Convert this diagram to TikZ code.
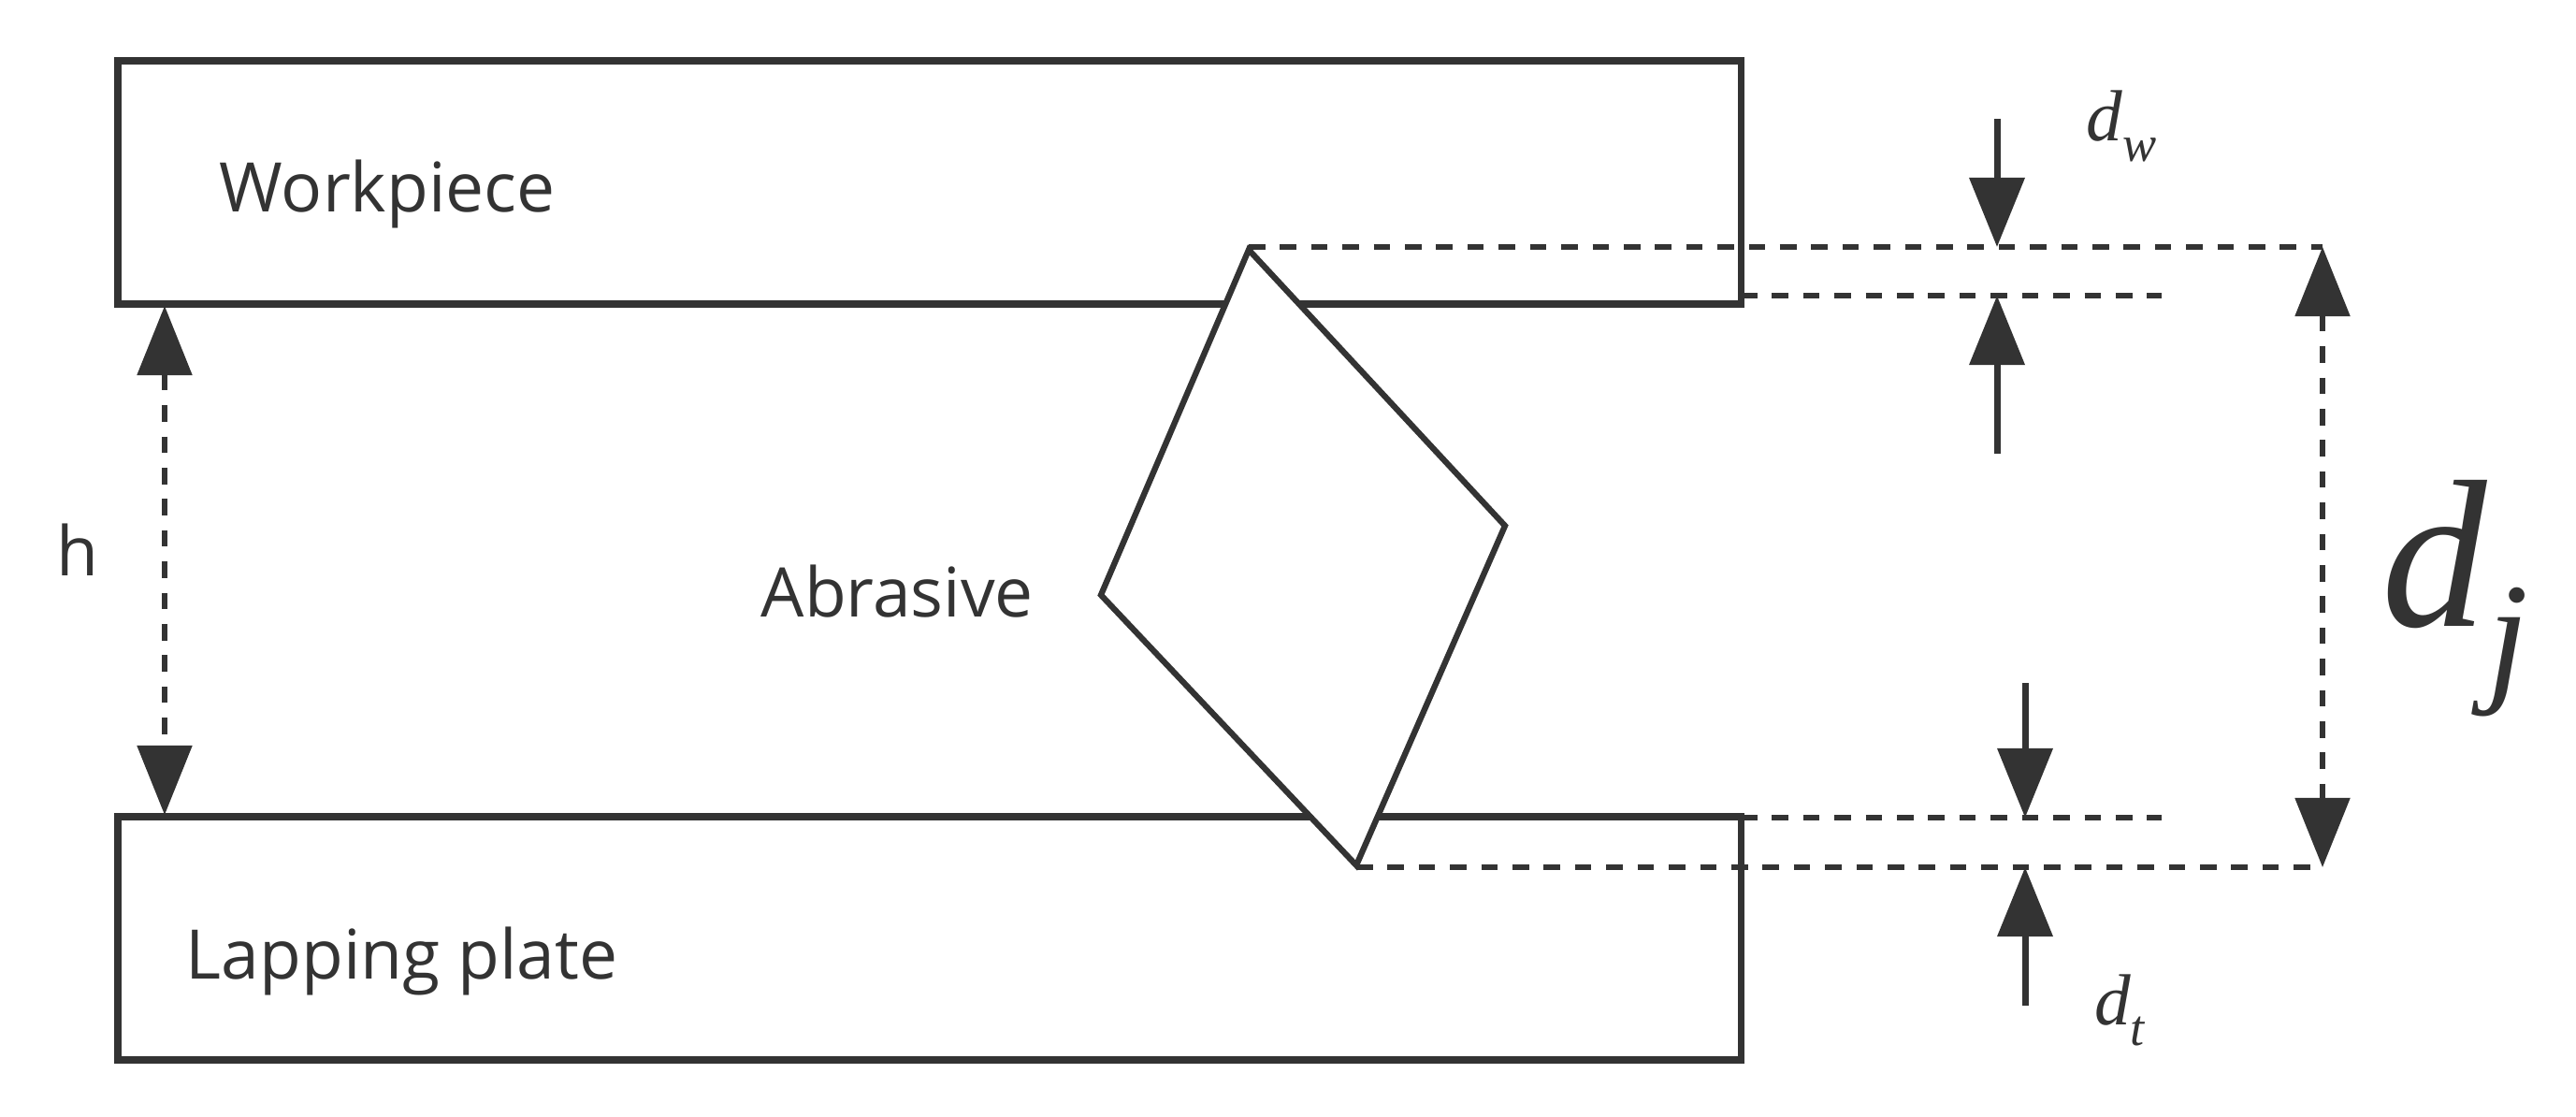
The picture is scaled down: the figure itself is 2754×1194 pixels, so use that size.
\documentclass[tikz,border=0pt]{standalone}
\usepackage{fontspec}
\setmainfont{Open Sans}
\newfontfamily\symfont{Liberation Serif}
\usetikzlibrary{arrows.meta}
\definecolor{ink}{HTML}{333333}
\newcommand{\mysym}[3]{{\symfont\itshape\fontsize{#3}{#3}\selectfont #1\raisebox{-0.28em}{\fontsize{0.7\dimexpr#3pt\relax}{#3}\selectfont #2}}}
\tikzset{
  solidline/.style={draw=ink,line width=2pt},
  dotline/.style={draw=ink,line width=1.5pt,dash pattern=on 5pt off 4.5pt},
  tip/.style={-{Triangle[width=0.58cm,length=0.74cm]}},
  lbl/.style={text=ink,font=\fontsize{20.8}{24}\selectfont,anchor=west,inner sep=0},
  mlbl/.style={text=ink,inner sep=0}
}
\begin{document}
\begin{tikzpicture}[x=0.01cm,y=-0.01cm]
\useasboundingbox (0,0) rectangle (2754,1194);
% plates
\draw[solidline] (126,65) rectangle (1861,325);
\draw[solidline] (126,873) rectangle (1861,1133);
\node[lbl] (wp) at (234,207) {Workpiece};
\node[lbl] (lp) at (198,1027) {Lapping plate};
\node[lbl] (ab) at (813,632) {Abrasive};
\node[lbl] (h) at (60,588) {h};
% abrasive
\draw[solidline,fill=white,line width=1.8pt] (1335,267) -- (1609,562) -- (1450,925) -- (1177,636) -- cycle;
% dotted lines
\coordinate (t1) at (1335,264); \coordinate (t2) at (2483,264);
\coordinate (s1) at (1861,316); \coordinate (s2) at (2311,316);
\coordinate (u1) at (1861,874); \coordinate (u2) at (2311,874);
\coordinate (b1) at (1450,927); \coordinate (b2) at (2483,927);
\draw[dotline] (t1) -- (t2);
\draw[dotline] (s1) -- (s2);
\draw[dotline] (u1) -- (u2);
\draw[dotline] (b1) -- (b2);
% h arrow
\coordinate (h1) at (176,327); \coordinate (h2) at (176,871);
\draw[dotline,{Triangle[width=0.58cm,length=0.74cm]}-{Triangle[width=0.58cm,length=0.74cm]}] (h1) -- (h2);
% dj arrow
\draw[dotline,{Triangle[width=0.58cm,length=0.74cm]}-{Triangle[width=0.58cm,length=0.74cm]}] (t2) -- (b2);
% dw arrows
\coordinate (dw1) at (2135,127); \coordinate (dw2) at (2135,485);
\coordinate (dwt) at (2135,264); \coordinate (dwb) at (2135,316);
\draw[ink,line width=2pt,tip] (dw1) -- (dwt);
\draw[ink,line width=2pt,tip] (dw2) -- (dwb);
% dt arrows
\coordinate (dt1) at (2165,730); \coordinate (dt2) at (2165,1075);
\coordinate (dtt) at (2165,874); \coordinate (dtb) at (2165,927);
\draw[ink,line width=2pt,tip] (dt1) -- (dtt);
\draw[ink,line width=2pt,tip] (dt2) -- (dtb);
% labels
\node[mlbl] (ldw) at (2268,135) {\mysym{d}{w}{22}};
\node[mlbl] (ldt) at (2266,1080) {\mysym{d}{t}{22}};
\node[mlbl] (ldj) at (2625,640) {\mysym{d}{j}{64}};
\end{tikzpicture}
\end{document}
